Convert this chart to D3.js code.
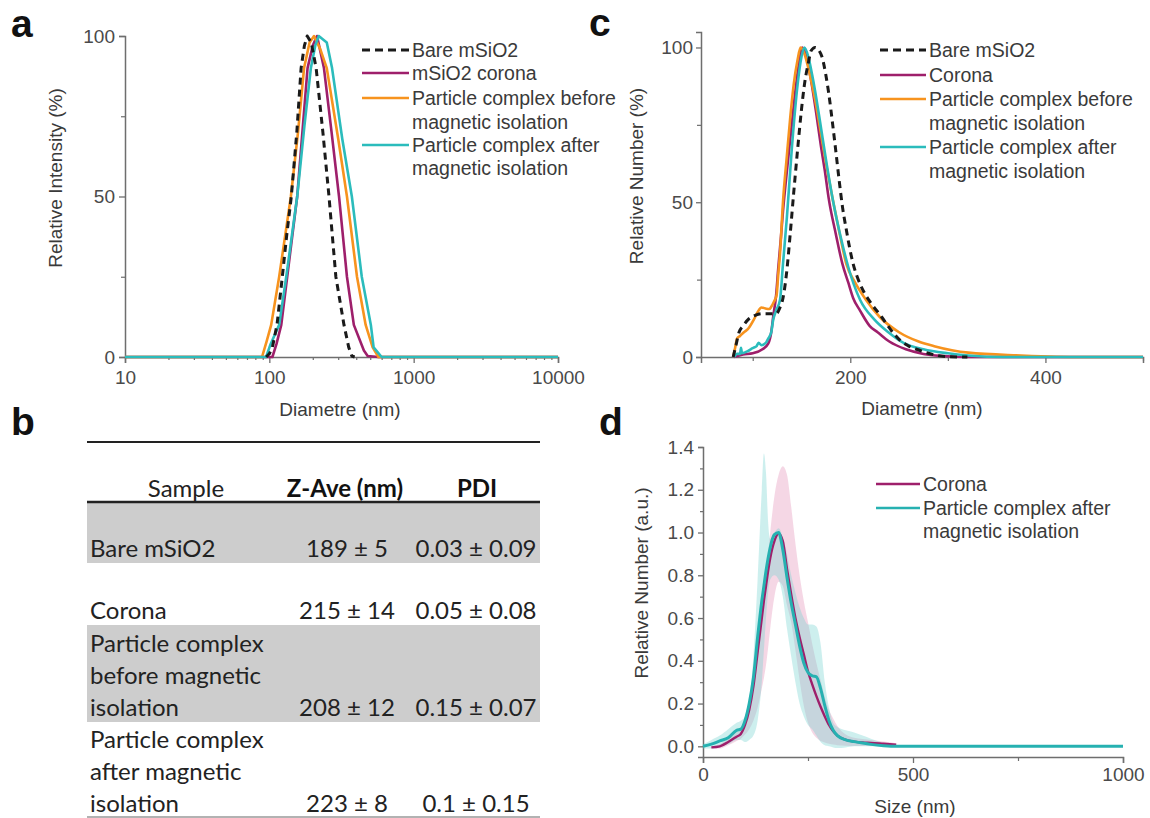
<!DOCTYPE html>
<html>
<head>
<meta charset="utf-8">
<script src="https://cdn.jsdelivr.net/npm/d3@7"></script>
<style>
  body { margin: 0; background: #fff; }
  svg { display: block; }
  svg text { font-family: "Liberation Sans", Arial, sans-serif; }
  svg .tbl text { font-family: Lato, "Open Sans", sans-serif; }
</style>
</head>
<body>
<svg id="fig" width="1150" height="818"></svg>
<script>
// ---------- Panel a: DLS intensity distributions (diameter nm, relative intensity %) ----------
const intensityBare = [[95,0],[100,1],[105,3],[113,10],[123,25],[132,38],[142,50],[155,70],[166,90],[175,97],[183,100],[195,98],[211,90],[235,70],[259,50],[289,25],[329,10],[355,3],[373,0.3],[390,0]];
const intensityCorona = [[10,0],[105,0],[112,4],[121,10],[133,25],[156,50],[184,90],[200,97],[214,100],[239,90],[270,70],[304,50],[345,25],[385,10],[452,2],[480,0.3],[570,0],[10000,0]];
const intensityBefore = [[10,0],[89,0],[96,5],[103,10],[117,25],[141,50],[158,70],[174,90],[190,98],[204,100],[225,96],[250,90],[300,68],[345,50],[405,25],[465,10],[520,3],[570,0],[10000,0]];
const intensityAfter = [[10,0],[95,0],[102,4],[117,10],[131,25],[156,50],[175,72],[194,90],[208,97],[220,100],[250,98],[272,90],[320,68],[373,50],[437,25],[505,10],[528,3],[600,0],[10000,0]];
const diamTicks = [10, 100, 1000, 10000];

// ---------- Panel b: summary table ----------
const tableSamples = [["Bare mSiO2"], ["Corona"], ["Particle complex", "before magnetic", "isolation"], ["Particle complex", "after magnetic", "isolation"]];
const tableZAve = ["189 ± 5", "215 ± 14", "208 ± 12", "223 ± 8"];
const tablePDI = ["0.03 ± 0.09", "0.05 ± 0.08", "0.15 ± 0.07", "0.1 ± 0.15"];
const tableHeaders = ["Sample", "Z-Ave (nm)", "PDI"];

// ---------- Panel c: number distributions (diameter nm, relative number %) ----------
const numberBare = [[80,0],[83,4],[86,8],[90,10],[95,12],[103,13.5],[110,14],[118,14],[124,14],[128,16],[131,19],[135,28],[138.5,40],[142,53],[146,67],[150,80],[153,88],[157,95],[160,99],[164,100],[168,99],[171,97],[175,91],[178,85],[182,75],[185,67],[189,56],[192,48.5],[196,41],[199.5,35],[203,30],[207,26],[214,21],[221,17.5],[232,13],[241,9],[250,5.7],[260,3.5],[268,2.5],[280,1.2],[289,0.5],[300,0.1],[320,0]];
const numberCorona = [[81,0],[90,0.8],[100,1.2],[110,2.5],[116,4.4],[119,8],[121,13],[124,20],[126,28],[129,39],[131,47],[135,60],[139,72],[143,84],[147,94],[151,100],[155,97],[160,89],[165,79],[170,68],[174,60],[178,51],[185,40],[192,30],[198,24],[203,19],[210,15],[220,10],[228,8],[240,5],[257,2.5],[275,1],[296,0.3],[320,0],[500,0]];
const numberBefore = [[80,0],[82,3],[84,6],[87,6.8],[91,8],[95,9],[101,12],[105,14.5],[109,16],[114,15.6],[117,15.5],[119,16.2],[122,18],[124.5,20],[126,26],[128,33.5],[131,50],[135,65],[138.5,77.5],[142,88],[146,96],[149,100],[153,98],[158,92],[164,83],[170,72],[176,61],[182,51],[189,40],[196,30],[205,24],[216,18.5],[230,13],[250,8],[270,5],[286,3.5],[321,1.4],[375,0.5],[411,0.1],[440,0],[500,0]];
const numberAfter = [[81,0],[84,1],[87,1],[88,3],[89,1.2],[92,1.5],[95,1.9],[98,2.5],[101,3],[104,3.5],[106,4.6],[109,3.8],[111,4],[114,4.8],[116,6],[119,8],[121,12],[124,15],[128,18.5],[131,30],[135,45],[140,67],[146,88],[150,97],[153,100],[157,97],[161,91],[165.5,83],[170,74],[176,62],[182,51],[190,39],[198,29],[210,18.5],[225,12],[239,8],[255,4.5],[275,2.5],[300,1.2],[321,0.5],[357,0],[500,0]];
const numberXTicks = [200, 400];
const numberXMinor = [100, 300, 500];

// ---------- Panel d: averaged size distributions with ±SD bands ----------
const sizeGrid = [0,20,40,60,80,90,100,110,120,130,140,145,150,155,160,170,180,190,200,210,220,230,240,250,260,270,280,290,300,310,320,340,360,380,400,430,460,500,600,800,1000];
const coronaMean = [null,-0.005,0,0.02,0.045,0.058,0.1,0.17,0.28,0.44,0.6,0.68,0.75,0.82,0.88,0.96,0.995,0.96,0.83,0.71,0.6,0.51,0.43,0.35,0.29,0.235,0.185,0.14,0.1,0.07,0.05,0.03,0.022,0.018,0.016,0.012,0.008,null,null,null,null];
const coronaLow = [null,-0.01,-0.01,0.005,0.025,0.035,0.055,0.08,0.12,0.18,0.27,0.32,0.38,0.46,0.55,0.7,0.77,0.75,0.66,0.58,0.45,0.31,0.19,0.11,0.065,0.04,0.025,0.018,0.012,0.008,0.005,0.003,0.002,0.002,0.002,0.002,0.002,null,null,null,null];
const coronaHigh = [null,0,0.01,0.035,0.065,0.08,0.14,0.22,0.35,0.5,0.62,0.7,0.78,0.9,1.0,1.17,1.27,1.31,1.27,1.12,0.95,0.8,0.68,0.58,0.48,0.39,0.31,0.23,0.17,0.13,0.095,0.055,0.04,0.034,0.03,0.022,0.014,null,null,null,null];
const complexMean = [0,0.01,0.025,0.04,0.075,0.08,0.12,0.2,0.32,0.51,0.68,0.75,0.82,0.88,0.93,0.99,1.0,0.92,0.79,0.67,0.57,0.47,0.39,0.345,0.33,0.325,0.27,0.19,0.12,0.075,0.05,0.03,0.022,0.015,0.009,0.003,0,0,0,0,0];
const complexLow = [-0.01,-0.01,0,0.01,0.03,0.03,0.02,0.03,0.05,0.12,0.3,0.45,0.6,0.72,0.78,0.8,0.78,0.7,0.55,0.42,0.3,0.2,0.14,0.1,0.08,0.05,0.02,0.005,0,-0.005,-0.008,-0.005,0,0,0,0,0,0,0,0,0];
const complexHigh = [0.01,0.03,0.05,0.08,0.11,0.12,0.14,0.22,0.42,0.78,1.2,1.37,1.28,1.05,0.97,1.0,1.02,0.98,0.9,0.8,0.72,0.65,0.6,0.57,0.57,0.56,0.48,0.3,0.18,0.11,0.09,0.075,0.065,0.05,0.035,0.015,0.005,0,0,0,0];
const sizeTicks = [0, 500, 1000];
const sizeMinor = [250, 750];
const relTicks = [0, 0.2, 0.4, 0.6, 0.8, 1.0, 1.2, 1.4];
const relMinor = [0.1, 0.3, 0.5, 0.7, 0.9, 1.1, 1.3];

// ---------- Shared styles ----------
const COL = { bare: "#1a1a1a", corona: "#9e1f6b", before: "#f7931e", after: "#2bbcbc", afterD: "#26b1b1" };
const AXIS = "#6e6e6e", TICKTXT = "#4a4a4a", LEGTXT = "#3a3a3a";
const FS = 19, LEG_FS = 19.5;

const svg = d3.select("#fig");

function styleAxis(g) {
  g.attr("font-family", null).attr("font-size", null);
  g.select(".domain").attr("stroke", AXIS).attr("stroke-width", 1.5);
  g.selectAll(".tick line").attr("stroke", AXIS).attr("stroke-width", 1.3);
  g.selectAll(".tick text").attr("fill", TICKTXT).style("font-size", FS + "px");
}

function minorAxis(g, axis) {
  g.call(axis);
  g.select(".domain").remove();
  g.selectAll(".tick line").attr("stroke", AXIS).attr("stroke-width", 1.2);
  g.selectAll(".tick text").remove();
}

function axisTitle(text, x, y, rotate) {
  svg.append("text")
    .attr("transform", `translate(${x},${y})` + (rotate ? " rotate(-90)" : ""))
    .attr("dy", "0.36em").attr("text-anchor", "middle").attr("fill", LEGTXT)
    .style("font-size", FS + "px").text(text);
}

function legend(x0, x1, items) {
  const g = svg.append("g");
  items.forEach(it => {
    if (it.color) {
      g.append("line").attr("x1", x0).attr("x2", x1).attr("y1", it.y).attr("y2", it.y)
        .attr("stroke", it.color).attr("stroke-width", it.dash ? 3 : 2.7)
        .attr("stroke-dasharray", it.dash ? "8,5" : null);
    }
    g.append("text").attr("x", x1 + 3).attr("y", it.y).attr("dy", "0.36em")
      .attr("fill", LEGTXT).style("font-size", LEG_FS + "px").text(it.text);
  });
}

function panelLetter(ch, x, y) {
  svg.append("text").attr("x", x).attr("y", y).text(ch)
    .style("font-size", "39px").style("font-weight", "bold").attr("fill", "#111");
}

// ---------- Panel a ----------
(function () {
  const L = 125, R = 558, T = 36, B = 357;
  const x = d3.scaleLog().domain([10, 10000]).range([L, R]);
  const y = d3.scaleLinear().domain([0, 100]).range([B, T]);
  const minorX = [];
  [10, 100, 1000].forEach(dec => { for (let k = 2; k <= 9; k++) minorX.push(dec * k); });

  minorAxis(svg.append("g").attr("transform", `translate(0,${B})`),
    d3.axisBottom(x).tickValues(minorX).tickSize(3).tickFormat(""));
  minorAxis(svg.append("g").attr("transform", `translate(${L},0)`),
    d3.axisLeft(y).tickValues([25, 75]).tickSize(4).tickFormat(""));
  const gx = svg.append("g").attr("transform", `translate(0,${B})`)
    .call(d3.axisBottom(x).tickValues(diamTicks).tickFormat(d3.format("d")).tickSize(6).tickPadding(8));
  styleAxis(gx);
  const gy = svg.append("g").attr("transform", `translate(${L},0)`)
    .call(d3.axisLeft(y).tickValues([0, 50, 100]).tickSize(6).tickPadding(4));
  styleAxis(gy);

  const line = d3.line().x(d => x(d[0])).y(d => y(d[1]));
  const series = [
    [intensityCorona, COL.corona, null],
    [intensityBefore, COL.before, null],
    [intensityAfter, COL.after, null],
    [intensityBare, COL.bare, "7,5"]
  ];
  series.forEach(([data, c, dash]) => {
    svg.append("path").datum(data).attr("d", line).attr("fill", "none")
      .attr("stroke", c).attr("stroke-width", dash ? 3 : 2.6)
      .attr("stroke-dasharray", dash).attr("stroke-linejoin", "round");
  });

  axisTitle("Diametre (nm)", 340, 409, false);
  axisTitle("Relative Intensity (%)", 55, 178, true);

  legend(362, 409, [
    { y: 50, color: COL.bare, dash: true, text: "Bare mSiO2" },
    { y: 73, color: COL.corona, text: "mSiO2 corona" },
    { y: 98, color: COL.before, text: "Particle complex before" },
    { y: 122, text: "magnetic isolation" },
    { y: 145, color: COL.after, text: "Particle complex after" },
    { y: 168, text: "magnetic isolation" }
  ]);
  panelLetter("a", 11, 37);
})();

// ---------- Panel c ----------
(function () {
  const L = 701, R = 1143, T = 32, B = 357;
  const x = d3.scaleLinear().domain([47, 500]).range([L, R]);
  const y = d3.scaleLinear().domain([0, 105]).range([B, T]);

  minorAxis(svg.append("g").attr("transform", `translate(0,${B})`),
    d3.axisBottom(x).tickValues(numberXMinor).tickSize(4).tickFormat(""));
  minorAxis(svg.append("g").attr("transform", `translate(${L},0)`),
    d3.axisLeft(y).tickValues([25, 75]).tickSize(4).tickFormat(""));
  const gx = svg.append("g").attr("transform", `translate(0,${B})`)
    .call(d3.axisBottom(x).tickValues(numberXTicks).tickSize(6).tickPadding(8));
  styleAxis(gx);
  const gy = svg.append("g").attr("transform", `translate(${L},0)`)
    .call(d3.axisLeft(y).tickValues([0, 50, 100]).tickSize(5).tickPadding(3));
  styleAxis(gy);

  const line = d3.line().curve(d3.curveMonotoneX).x(d => x(d[0])).y(d => y(d[1]));
  const series = [
    [numberCorona, COL.corona, null],
    [numberBefore, COL.before, null],
    [numberAfter, COL.after, null],
    [numberBare, COL.bare, "7,5"]
  ];
  series.forEach(([data, c, dash]) => {
    svg.append("path").datum(data).attr("d", line).attr("fill", "none")
      .attr("stroke", c).attr("stroke-width", dash ? 3 : 2.6)
      .attr("stroke-dasharray", dash).attr("stroke-linejoin", "round");
  });

  axisTitle("Diametre (nm)", 922, 408, false);
  axisTitle("Relative Number (%)", 636, 176, true);

  legend(880, 926, [
    { y: 50, color: COL.bare, dash: true, text: "Bare mSiO2" },
    { y: 75, color: COL.corona, text: "Corona" },
    { y: 99, color: COL.before, text: "Particle complex before" },
    { y: 123, text: "magnetic isolation" },
    { y: 147, color: COL.after, text: "Particle complex after" },
    { y: 171, text: "magnetic isolation" }
  ]);
  panelLetter("c", 589, 36);
})();

// ---------- Panel d ----------
(function () {
  const L = 703, R = 1123, T = 447, B = 757;
  const x = d3.scaleLinear().domain([0, 1000]).range([L, R]);
  const y = d3.scaleLinear().domain([-0.05, 1.4]).range([B, T]);

  minorAxis(svg.append("g").attr("transform", `translate(0,${B})`),
    d3.axisBottom(x).tickValues(sizeMinor).tickSize(4).tickFormat(""));
  minorAxis(svg.append("g").attr("transform", `translate(${L},0)`),
    d3.axisLeft(y).tickValues(relMinor).tickSize(3).tickFormat(""));
  const gx = svg.append("g").attr("transform", `translate(0,${B})`)
    .call(d3.axisBottom(x).tickValues(sizeTicks).tickFormat(d3.format("d")).tickSize(6).tickPadding(5));
  styleAxis(gx);
  const gy = svg.append("g").attr("transform", `translate(${L},0)`)
    .call(d3.axisLeft(y).tickValues(relTicks).tickFormat(d3.format(".1f")).tickSize(5).tickPadding(4));
  styleAxis(gy);

  const idx = d3.range(sizeGrid.length);
  const band = (lo, hi) => d3.area().defined(i => lo[i] != null && hi[i] != null)
    .curve(d3.curveMonotoneX).x(i => x(sizeGrid[i])).y0(i => y(lo[i])).y1(i => y(hi[i]));
  const mean = arr => d3.line().defined(i => arr[i] != null)
    .curve(d3.curveMonotoneX).x(i => x(sizeGrid[i])).y(i => y(arr[i]));

  svg.append("path").datum(idx).attr("d", band(coronaLow, coronaHigh))
    .attr("fill", "#e59bbd").attr("opacity", 0.4);
  svg.append("path").datum(idx).attr("d", band(complexLow, complexHigh))
    .attr("fill", "#6fd0cf").attr("opacity", 0.35);
  svg.append("path").datum(idx).attr("d", mean(coronaMean)).attr("fill", "none")
    .attr("stroke", COL.corona).attr("stroke-width", 2.4);
  svg.append("path").datum(idx).attr("d", mean(complexMean)).attr("fill", "none")
    .attr("stroke", COL.afterD).attr("stroke-width", 3);

  axisTitle("Size (nm)", 915, 806, false);
  axisTitle("Relative Number (a.u.)", 641, 583, true);

  legend(876, 920, [
    { y: 484, color: COL.corona, text: "Corona" },
    { y: 508, color: COL.afterD, text: "Particle complex after" },
    { y: 531, text: "magnetic isolation" }
  ]);
  panelLetter("d", 599, 435);
})();

// ---------- Panel b: table ----------
(function () {
  const L = 87, R = 540;
  const g = svg.append("g").attr("class", "tbl").style("font-size", "24px");
  const rows = [{ top: 503, h: 60 }, { top: 563, h: 62 }, { top: 625, h: 97 }, { top: 722, h: 96 }];
  const lastLine = [548, 610, 707, 803];
  const lineH = 32;
  const colSample = 90, colZ = 347, colP = 476;

  rows.forEach((r, i) => {
    if (i % 2 === 0) g.append("rect").attr("x", L).attr("y", r.top).attr("width", R - L).attr("height", r.h).attr("fill", "#cdcdcd");
  });
  g.append("line").attr("x1", L).attr("x2", R).attr("y1", 442).attr("y2", 442).attr("stroke", "#222").attr("stroke-width", 2.2);
  g.append("line").attr("x1", L).attr("x2", R).attr("y1", 502).attr("y2", 502).attr("stroke", "#222").attr("stroke-width", 2.6);
  g.append("line").attr("x1", L).attr("x2", R).attr("y1", 817).attr("y2", 817).attr("stroke", "#999").attr("stroke-width", 1.5);

  g.append("text").attr("x", 186).attr("y", 488).attr("dy", "0.36em").attr("text-anchor", "middle").attr("fill", "#222").text(tableHeaders[0]);
  g.append("text").attr("x", 345).attr("y", 488).attr("dy", "0.36em").attr("text-anchor", "middle").attr("fill", "#111").style("font-weight", "bold").text(tableHeaders[1]);
  g.append("text").attr("x", 477).attr("y", 488).attr("dy", "0.36em").attr("text-anchor", "middle").attr("fill", "#111").style("font-weight", "bold").text(tableHeaders[2]);

  rows.forEach((r, i) => {
    const lines = tableSamples[i];
    const lastY = lastLine[i];
    lines.forEach((t, k) => {
      g.append("text").attr("x", colSample).attr("y", lastY - (lines.length - 1 - k) * lineH).attr("dy", "0.36em")
        .attr("fill", "#222").text(t);
    });
    g.append("text").attr("x", colZ).attr("y", lastY).attr("dy", "0.36em").attr("text-anchor", "middle").attr("fill", "#222").text(tableZAve[i]);
    g.append("text").attr("x", colP).attr("y", lastY).attr("dy", "0.36em").attr("text-anchor", "middle").attr("fill", "#222").text(tablePDI[i]);
  });
  panelLetter("b", 11, 435);
})();
</script>
</body>
</html>
